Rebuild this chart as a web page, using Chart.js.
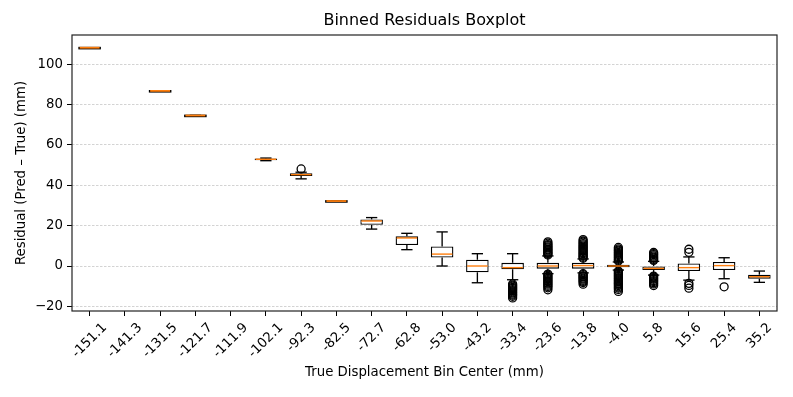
<!DOCTYPE html>
<html>
<head>
<meta charset="utf-8">
<script src="https://cdn.jsdelivr.net/npm/chart.js@4.4.1/dist/chart.umd.min.js"></script>
<style>
  html, body { margin: 0; padding: 0; background: #fff; }
</style>
</head>
<body>
<canvas id="grafico" width="793" height="397"></canvas>
<script>
// Bin centers (x categories)
var labels = ['-151.1', '-141.3', '-131.5', '-121.7', '-111.9', '-102.1', '-92.3', '-82.5', '-72.7', '-62.8',
              '-53.0', '-43.2', '-33.4', '-23.6', '-13.8', '-4.0', '5.8', '15.6', '25.4', '35.2'];

// Box statistics per bin (null = empty bin)
var q1 =          [108.2, null, 86.8, 74.6, null, 52.4, 44.6, 32.2, 20.4, 10.4, 4.2, -3.1, -1.6, -1.3, -1.3, -0.6, -2.0, -2.5, -2.0, -6.3];
var q3 =          [108.2, null, 86.8, 74.6, null, 53.3, 46.0, 32.2, 23.1, 14.7, 9.7, 3.1, 1.6, 1.6, 1.6, 0.6, 0.0, 1.3, 2.0, -4.3];
var medians =     [108.2, null, 86.8, 74.6, null, 52.9, 45.3, 32.2, 22.3, 13.9, 5.9, 0.0, -0.8, 0.0, 0.2, 0.0, -1.2, -0.8, 0.2, -5.3];
var whiskerLow =  [108.2, null, 86.8, 74.6, null, 52.2, 43.2, 32.2, 18.3, 8.1, 0.0, -8.3, -6.8, -3.8, -3.4, -2.0, -4.5, -7.0, -6.3, -8.1];
var whiskerHigh = [108.2, null, 86.8, 74.6, null, 53.5, 46.5, 32.2, 24.0, 16.2, 16.9, 6.1, 6.1, 5.0, 3.5, 2.0, 2.3, 4.5, 4.1, -2.5];

// Outliers per bin
var outliers = [
  [], [], [], [], [], [],
  [48.1],
  [], [], [], [], [],
  [-8.9, -9.5, -10.0, -10.6, -11.1, -11.7, -12.2, -12.8, -13.3, -13.9, -14.4, -15.0, -15.8],
  [5.5, 6.0, 6.4, 6.9, 7.5, 8.0, 8.4, 9.0, 9.5, 10.1, 10.6, 11.3, 12.0,
   -4.0, -4.5, -5.1, -5.6, -6.2, -6.7, -7.3, -7.8, -8.4, -8.9, -9.5, -10.1, -10.8, -11.8],
  [3.9, 4.4, 5.0, 5.5, 6.1, 6.6, 7.2, 7.7, 8.3, 8.8, 9.4, 9.9, 10.5, 11.1, 11.8, 12.4, 13.1,
   -3.8, -4.3, -4.9, -5.4, -6.0, -6.5, -7.1, -7.6, -8.2, -9.0],
  [2.5, 3.0, 3.5, 4.1, 4.6, 5.2, 5.7, 6.3, 6.8, 7.4, 7.9, 8.5, 9.2,
   -2.5, -3.0, -3.6, -4.1, -4.7, -5.2, -5.8, -6.3, -6.9, -7.4, -8.0, -8.6, -9.1, -9.7, -10.3, -10.9, -11.6, -12.6],
  [2.8, 3.3, 3.9, 4.4, 5.0, 5.6, 6.1, 6.7,
   -5.0, -5.5, -6.1, -6.6, -7.2, -7.7, -8.3, -8.9, -9.7],
  [6.8, 8.3, -8.6, -9.6, -11.0],
  [-10.3],
  []
];

var yTicks = [-20, 0, 20, 40, 60, 80, 100];

var FONT = '"DejaVu Sans", sans-serif';

// Floating bars for the boxes
var boxData = labels.map(function (l, i) {
  return q1[i] === null ? null : [q1[i], q3[i]];
});

// Outlier points
var outlierPoints = [];
outliers.forEach(function (lista, i) {
  lista.forEach(function (v) {
    outlierPoints.push({ x: labels[i], y: v });
  });
});

function line(ctx, x1, y1, x2, y2) {
  ctx.beginPath();
  ctx.moveTo(x1, y1);
  ctx.lineTo(x2, y2);
  ctx.stroke();
}

// Whiskers, caps, medians, frame, title and rotated x labels
var boxPlugin = {
  id: 'boxLines',
  beforeDatasetsDraw: function (chart) {
    var ctx = chart.ctx, xs = chart.scales.x, ys = chart.scales.y;
    var bars = chart.getDatasetMeta(0).data;
    ctx.save();
    ctx.strokeStyle = '#000';
    ctx.lineWidth = 1.35;
    for (var i = 0; i < labels.length; i++) {
      if (q1[i] === null) continue;
      var x = xs.getPixelForValue(i);
      var capW = bars[i].width / 4;
      line(ctx, x, ys.getPixelForValue(q3[i]), x, ys.getPixelForValue(whiskerHigh[i]));
      line(ctx, x, ys.getPixelForValue(q1[i]), x, ys.getPixelForValue(whiskerLow[i]));
      line(ctx, x - capW, ys.getPixelForValue(whiskerHigh[i]), x + capW, ys.getPixelForValue(whiskerHigh[i]));
      line(ctx, x - capW, ys.getPixelForValue(whiskerLow[i]), x + capW, ys.getPixelForValue(whiskerLow[i]));
    }
    ctx.restore();
  },
  afterDatasetsDraw: function (chart) {
    var ctx = chart.ctx, xs = chart.scales.x, ys = chart.scales.y;
    var bars = chart.getDatasetMeta(0).data;
    ctx.save();
    for (var i = 0; i < labels.length; i++) {
      if (q1[i] === null) continue;
      var x = xs.getPixelForValue(i);
      var half = bars[i].width / 2;
      var ym = ys.getPixelForValue(medians[i]);
      if (q1[i] === q3[i]) {
        // degenerate box: flat black line under the median
        ctx.strokeStyle = '#000';
        ctx.lineWidth = 2.6;
        line(ctx, x - half, ym + 0.4, x + half, ym + 0.4);
        ctx.strokeStyle = '#ff7f0e';
        ctx.lineWidth = 1.8;
        line(ctx, x - half + 1.3, ym, x + half - 1.3, ym);
        continue;
      }
      ctx.strokeStyle = '#ff7f0e';
      ctx.lineWidth = 1.4;
      line(ctx, x - half + 1, ym, x + half - 1, ym);
    }
    ctx.restore();
  },
  afterDraw: function (chart) {
    var ctx = chart.ctx, a = chart.chartArea, xs = chart.scales.x;
    ctx.save();
    // axes frame
    ctx.strokeStyle = '#222';
    ctx.lineWidth = 1.2;
    ctx.strokeRect(a.left, a.top, a.right - a.left, a.bottom - a.top);
    // title
    ctx.fillStyle = '#000';
    ctx.font = '16px ' + FONT;
    ctx.textAlign = 'center';
    ctx.textBaseline = 'middle';
    ctx.fillText('Binned Residuals Boxplot', (a.left + a.right) / 2, 21);
    // x tick labels, rotated 45 degrees, centered under each tick
    ctx.font = '13.3px ' + FONT;
    var h = 15.5;
    for (var i = 0; i < labels.length; i++) {
      var w = ctx.measureText(labels[i]).width;
      var side = (w + h) * Math.SQRT1_2;
      var x = xs.getPixelForValue(i);
      var y = a.bottom + 9 + side / 2;
      ctx.save();
      ctx.translate(x, y);
      ctx.rotate(-Math.PI / 4);
      ctx.fillText(labels[i], 0, 0);
      ctx.restore();
    }
    ctx.restore();
  }
};

var ctx = document.getElementById('grafico').getContext('2d');

var grafico = new Chart(ctx, {
  type: 'bar',
  data: {
    labels: labels,
    datasets: [
      {
        type: 'bar',
        data: boxData,
        backgroundColor: '#fff',
        borderColor: '#000',
        borderWidth: 1.35,
        borderSkipped: false,
        barPercentage: 0.64,
        categoryPercentage: 1,
        order: 0
      },
      {
        type: 'scatter',
        data: outlierPoints,
        pointRadius: 4,
        pointBorderWidth: 1.3,
        pointBorderColor: '#000',
        pointBackgroundColor: 'rgba(0,0,0,0)',
        order: 1
      }
    ]
  },
  options: {
    responsive: false,
    animation: false,
    layout: { padding: { top: 35, right: 16, left: 0, bottom: 0 } },
    plugins: {
      legend: { display: false },
      tooltip: { enabled: false },
      title: { display: false }
    },
    scales: {
      x: {
        type: 'category',
        offset: true,
        grid: { drawOnChartArea: false, offset: false, color: '#000', tickLength: 5, tickWidth: 1 },
        border: { display: false },
        ticks: { display: false },
        title: {
          display: true,
          text: 'True Displacement Bin Center (mm)',
          color: '#000',
          font: { family: FONT, size: 13.3 },
          padding: { top: 0, bottom: 16 }
        },
        afterFit: function (s) { s.height = 86; }
      },
      y: {
        min: -22.3,
        max: 114.5,
        afterBuildTicks: function (s) {
          s.ticks = yTicks.map(function (v) { return { value: v }; });
        },
        ticks: {
          color: '#000',
          font: { family: FONT, size: 13.3 },
          padding: 4,
          callback: function (v) { return String(v).replace('-', '\u2212'); }
        },
        grid: { color: '#c8c8c8', lineWidth: 0.8, tickColor: '#000', tickLength: 5, tickWidth: 1, tickBorderDash: [] },
        border: { display: false, dash: [2.5, 1.5] },
        title: {
          display: true,
          text: 'Residual (Pred \u2013 True) (mm)',
          color: '#000',
          font: { family: FONT, size: 13.3 },
          padding: { top: 13.5, bottom: 0 }
        },
        afterFit: function (s) { s.width = 72; }
      }
    }
  },
  plugins: [boxPlugin]
});
</script>
</body>
</html>
